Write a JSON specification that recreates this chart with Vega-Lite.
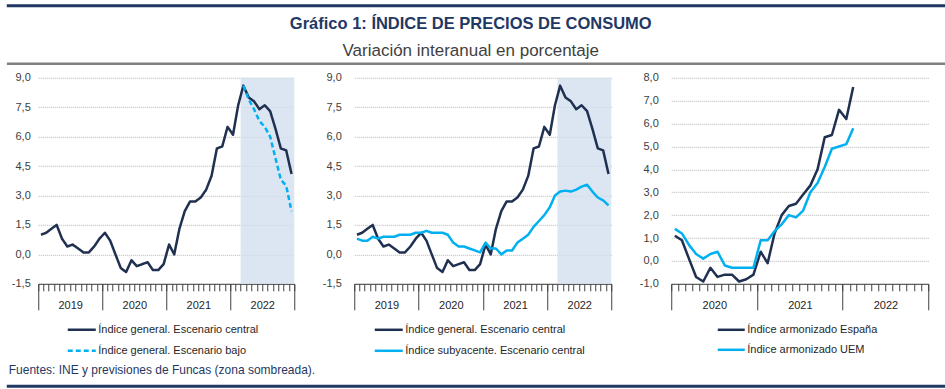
{
  "$schema": "https://vega.github.io/schema/vega-lite/v6.json",
  "background": "white",
  "padding": {"left": 4.5, "top": 3.8, "right": 2, "bottom": 2},
  "datasets": {
    "prevision": [{"inicio": "2022-03", "fin": "2023-01"}],
    "general": [
      {"mes": "2019-01", "valor": 1.0}, {"mes": "2019-02", "valor": 1.1}, {"mes": "2019-03", "valor": 1.3}, {"mes": "2019-04", "valor": 1.5},
      {"mes": "2019-05", "valor": 0.8}, {"mes": "2019-06", "valor": 0.4}, {"mes": "2019-07", "valor": 0.5}, {"mes": "2019-08", "valor": 0.3},
      {"mes": "2019-09", "valor": 0.1}, {"mes": "2019-10", "valor": 0.1}, {"mes": "2019-11", "valor": 0.4}, {"mes": "2019-12", "valor": 0.8},
      {"mes": "2020-01", "valor": 1.1}, {"mes": "2020-02", "valor": 0.7}, {"mes": "2020-03", "valor": 0.0}, {"mes": "2020-04", "valor": -0.7},
      {"mes": "2020-05", "valor": -0.9}, {"mes": "2020-06", "valor": -0.3}, {"mes": "2020-07", "valor": -0.6}, {"mes": "2020-08", "valor": -0.5},
      {"mes": "2020-09", "valor": -0.4}, {"mes": "2020-10", "valor": -0.8}, {"mes": "2020-11", "valor": -0.8}, {"mes": "2020-12", "valor": -0.5},
      {"mes": "2021-01", "valor": 0.5}, {"mes": "2021-02", "valor": 0.0}, {"mes": "2021-03", "valor": 1.3}, {"mes": "2021-04", "valor": 2.2},
      {"mes": "2021-05", "valor": 2.7}, {"mes": "2021-06", "valor": 2.7}, {"mes": "2021-07", "valor": 2.9}, {"mes": "2021-08", "valor": 3.3},
      {"mes": "2021-09", "valor": 4.0}, {"mes": "2021-10", "valor": 5.4}, {"mes": "2021-11", "valor": 5.5}, {"mes": "2021-12", "valor": 6.5},
      {"mes": "2022-01", "valor": 6.1}, {"mes": "2022-02", "valor": 7.6}, {"mes": "2022-03", "valor": 8.6}, {"mes": "2022-04", "valor": 8.0},
      {"mes": "2022-05", "valor": 7.8}, {"mes": "2022-06", "valor": 7.4}, {"mes": "2022-07", "valor": 7.6}, {"mes": "2022-08", "valor": 7.3},
      {"mes": "2022-09", "valor": 6.4}, {"mes": "2022-10", "valor": 5.4}, {"mes": "2022-11", "valor": 5.3}, {"mes": "2022-12", "valor": 4.1}
    ],
    "bajo": [
      {"mes": "2022-03", "valor": 8.6}, {"mes": "2022-04", "valor": 7.9}, {"mes": "2022-05", "valor": 7.4}, {"mes": "2022-06", "valor": 6.8},
      {"mes": "2022-07", "valor": 6.5}, {"mes": "2022-08", "valor": 6.0}, {"mes": "2022-09", "valor": 4.9}, {"mes": "2022-10", "valor": 3.8},
      {"mes": "2022-11", "valor": 3.5}, {"mes": "2022-12", "valor": 2.2}
    ],
    "subyacente": [
      {"mes": "2019-01", "valor": 0.8}, {"mes": "2019-02", "valor": 0.7}, {"mes": "2019-03", "valor": 0.7}, {"mes": "2019-04", "valor": 0.9},
      {"mes": "2019-05", "valor": 0.8}, {"mes": "2019-06", "valor": 0.9}, {"mes": "2019-07", "valor": 0.9}, {"mes": "2019-08", "valor": 0.9},
      {"mes": "2019-09", "valor": 1.0}, {"mes": "2019-10", "valor": 1.0}, {"mes": "2019-11", "valor": 1.0}, {"mes": "2019-12", "valor": 1.1},
      {"mes": "2020-01", "valor": 1.1}, {"mes": "2020-02", "valor": 1.2}, {"mes": "2020-03", "valor": 1.1}, {"mes": "2020-04", "valor": 1.1},
      {"mes": "2020-05", "valor": 1.1}, {"mes": "2020-06", "valor": 1.0}, {"mes": "2020-07", "valor": 0.6}, {"mes": "2020-08", "valor": 0.4},
      {"mes": "2020-09", "valor": 0.4}, {"mes": "2020-10", "valor": 0.3}, {"mes": "2020-11", "valor": 0.2}, {"mes": "2020-12", "valor": 0.1},
      {"mes": "2021-01", "valor": 0.6}, {"mes": "2021-02", "valor": 0.3}, {"mes": "2021-03", "valor": 0.3}, {"mes": "2021-04", "valor": 0.0},
      {"mes": "2021-05", "valor": 0.2}, {"mes": "2021-06", "valor": 0.2}, {"mes": "2021-07", "valor": 0.6}, {"mes": "2021-08", "valor": 0.8},
      {"mes": "2021-09", "valor": 1.0}, {"mes": "2021-10", "valor": 1.4}, {"mes": "2021-11", "valor": 1.7}, {"mes": "2021-12", "valor": 2.0},
      {"mes": "2022-01", "valor": 2.4}, {"mes": "2022-02", "valor": 3.0}, {"mes": "2022-03", "valor": 3.2}, {"mes": "2022-04", "valor": 3.25},
      {"mes": "2022-05", "valor": 3.2}, {"mes": "2022-06", "valor": 3.3}, {"mes": "2022-07", "valor": 3.45}, {"mes": "2022-08", "valor": 3.55},
      {"mes": "2022-09", "valor": 3.2}, {"mes": "2022-10", "valor": 2.9}, {"mes": "2022-11", "valor": 2.75}, {"mes": "2022-12", "valor": 2.5}
    ],
    "ipca_es": [
      {"mes": "2020-01", "valor": 1.1}, {"mes": "2020-02", "valor": 0.9}, {"mes": "2020-03", "valor": 0.1}, {"mes": "2020-04", "valor": -0.7},
      {"mes": "2020-05", "valor": -0.9}, {"mes": "2020-06", "valor": -0.3}, {"mes": "2020-07", "valor": -0.7}, {"mes": "2020-08", "valor": -0.6},
      {"mes": "2020-09", "valor": -0.6}, {"mes": "2020-10", "valor": -0.9}, {"mes": "2020-11", "valor": -0.8}, {"mes": "2020-12", "valor": -0.6},
      {"mes": "2021-01", "valor": 0.4}, {"mes": "2021-02", "valor": -0.1}, {"mes": "2021-03", "valor": 1.2}, {"mes": "2021-04", "valor": 2.0},
      {"mes": "2021-05", "valor": 2.4}, {"mes": "2021-06", "valor": 2.5}, {"mes": "2021-07", "valor": 2.9}, {"mes": "2021-08", "valor": 3.3},
      {"mes": "2021-09", "valor": 4.0}, {"mes": "2021-10", "valor": 5.4}, {"mes": "2021-11", "valor": 5.5}, {"mes": "2021-12", "valor": 6.6},
      {"mes": "2022-01", "valor": 6.2}, {"mes": "2022-02", "valor": 7.6}
    ],
    "ipca_uem": [
      {"mes": "2020-01", "valor": 1.4}, {"mes": "2020-02", "valor": 1.2}, {"mes": "2020-03", "valor": 0.7}, {"mes": "2020-04", "valor": 0.3},
      {"mes": "2020-05", "valor": 0.1}, {"mes": "2020-06", "valor": 0.3}, {"mes": "2020-07", "valor": 0.4}, {"mes": "2020-08", "valor": -0.2},
      {"mes": "2020-09", "valor": -0.3}, {"mes": "2020-10", "valor": -0.3}, {"mes": "2020-11", "valor": -0.3}, {"mes": "2020-12", "valor": -0.3},
      {"mes": "2021-01", "valor": 0.9}, {"mes": "2021-02", "valor": 0.9}, {"mes": "2021-03", "valor": 1.3}, {"mes": "2021-04", "valor": 1.6},
      {"mes": "2021-05", "valor": 2.0}, {"mes": "2021-06", "valor": 1.9}, {"mes": "2021-07", "valor": 2.2}, {"mes": "2021-08", "valor": 3.0},
      {"mes": "2021-09", "valor": 3.4}, {"mes": "2021-10", "valor": 4.1}, {"mes": "2021-11", "valor": 4.9}, {"mes": "2021-12", "valor": 5.0},
      {"mes": "2022-01", "valor": 5.1}, {"mes": "2022-02", "valor": 5.8}
    ]
  },
  "concat": [
    {
      "width": 952, "height": 54,
      "data": {"values": []},
      "mark": "point",
      "view": {"stroke": "#1f3864", "strokeWidth": 3, "strokeDash": [952, 3000]},
      "title": {
        "text": "Gráfico 1: ÍNDICE DE PRECIOS DE CONSUMO",
        "subtitle": "Variación interanual en porcentaje",
        "orient": "bottom", "anchor": "middle", "frame": "group", "baseline": "top",
        "offset": -44, "dx": -12,
        "font": "Liberation Sans", "fontSize": 16.5, "fontWeight": "bold", "color": "#1f3864",
        "subtitleFont": "Liberation Sans", "subtitleFontSize": 17, "subtitleColor": "#3f3f3f", "subtitlePadding": 10.8
      }
    },
    {
      "width": 952, "height": 6.75,
      "data": {"values": []},
      "mark": "point",
      "view": {"stroke": "#808080", "strokeWidth": 2.5, "strokeDash": [952, 3000]}
    },
    {
      "hconcat": [
        {
          "width": 256, "height": 206,
          "layer": [
            {
              "data": {"name": "prevision"},
              "mark": {"type": "rect", "color": "#d3e0ef", "opacity": 0.8},
              "encoding": {
                "x": {"field": "inicio", "type": "temporal",
                  "scale": {"type": "utc", "domain": [{"year": 2019, "month": 1, "date": 1, "utc": true}, {"year": 2023, "month": 1, "date": 1, "utc": true}], "nice": false},
                  "axis": {"orient": "bottom", "tickCount": {"interval": "year", "step": 1}, "tickSize": 26, "tickColor": "#404040", "domain": false, "grid": false,
                    "labelExpr": "utcyear(datum.value) == 2019 ? '' : '' + (utcyear(datum.value) - 1)",
                    "labelOffset": -32, "labelPadding": -4, "labelBaseline": "middle", "labelAlign": "center", "labelFlush": false, "labelOverlap": false, "labelBound": false,
                    "labelColor": "#262626", "title": null}},
                "x2": {"field": "fin"}
              }
            },
            {
              "data": {"name": "general"},
              "mark": {"type": "line", "strokeWidth": 2.5, "strokeJoin": "round"},
              "encoding": {
                "x": {"field": "mes", "type": "temporal", "timeUnit": "utcyearmonth", "bandPosition": 0.5,
                  "axis": {"orient": "bottom", "tickCount": {"interval": "month", "step": 1}, "tickSize": 7, "tickColor": "#404040", "domain": true, "domainColor": "#404040", "labels": false, "grid": false, "title": null}},
                "y": {"field": "valor", "type": "quantitative",
                  "scale": {"domain": [-1.5, 9], "nice": false, "zero": false},
                  "axis": {"values": [-1.5, 0, 1.5, 3, 4.5, 6, 7.5, 9], "tickCount": 20, "labelExpr": "replace(replace(format(datum.value, '.1f'), '.', ','), '\u2212', '-')",
                    "labelOverlap": false, "grid": true, "gridDash": [1, 1], "gridColor": "#b3b3b3", "domain": false, "ticks": false, "labelPadding": 8, "title": null}},
                "color": {"datum": "Índice general. Escenario central", "type": "nominal",
                  "scale": {"domain": ["Índice general. Escenario central", "Índice general. Escenario bajo"], "range": ["#1f3050", "#00b0f0"]},
                  "legend": {"legendX": 28, "legendY": 236.5, "symbolSize": 784, "rowPadding": -12.5, "title": null}},
                "strokeDash": {"datum": "Índice general. Escenario central", "type": "nominal",
                  "scale": {"domain": ["Índice general. Escenario central", "Índice general. Escenario bajo"], "range": [[1, 0], [5, 3]]},
                  "legend": {"legendX": 28, "legendY": 236.5, "symbolSize": 784, "rowPadding": -12.5, "title": null}}
              }
            },
            {
              "data": {"name": "bajo"},
              "mark": {"type": "line", "strokeWidth": 2.5, "strokeJoin": "round"},
              "encoding": {
                "x": {"field": "mes", "type": "temporal", "timeUnit": "utcyearmonth", "bandPosition": 0.5, "axis": null},
                "y": {"field": "valor", "type": "quantitative"},
                "color": {"datum": "Índice general. Escenario bajo", "type": "nominal"},
                "strokeDash": {"datum": "Índice general. Escenario bajo", "type": "nominal"}
              }
            }
          ],
          "resolve": {"axis": {"x": "independent"}}
        },
        {
          "width": 257, "height": 206,
          "layer": [
            {
              "data": {"name": "prevision"},
              "mark": {"type": "rect", "color": "#d3e0ef", "opacity": 0.8},
              "encoding": {
                "x": {"field": "inicio", "type": "temporal",
                  "scale": {"type": "utc", "domain": [{"year": 2019, "month": 1, "date": 1, "utc": true}, {"year": 2023, "month": 1, "date": 1, "utc": true}], "nice": false},
                  "axis": {"orient": "bottom", "tickCount": {"interval": "year", "step": 1}, "tickSize": 26, "tickColor": "#404040", "domain": false, "grid": false,
                    "labelExpr": "utcyear(datum.value) == 2019 ? '' : '' + (utcyear(datum.value) - 1)",
                    "labelOffset": -32, "labelPadding": -4, "labelBaseline": "middle", "labelAlign": "center", "labelFlush": false, "labelOverlap": false, "labelBound": false,
                    "labelColor": "#262626", "title": null}},
                "x2": {"field": "fin"}
              }
            },
            {
              "data": {"name": "general"},
              "mark": {"type": "line", "strokeWidth": 2.5, "strokeJoin": "round"},
              "encoding": {
                "x": {"field": "mes", "type": "temporal", "timeUnit": "utcyearmonth", "bandPosition": 0.5,
                  "axis": {"orient": "bottom", "tickCount": {"interval": "month", "step": 1}, "tickSize": 7, "tickColor": "#404040", "domain": true, "domainColor": "#404040", "labels": false, "grid": false, "title": null}},
                "y": {"field": "valor", "type": "quantitative",
                  "scale": {"domain": [-1.5, 9], "nice": false, "zero": false},
                  "axis": {"values": [-1.5, 0, 1.5, 3, 4.5, 6, 7.5, 9], "tickCount": 20, "labelExpr": "replace(replace(format(datum.value, '.1f'), '.', ','), '\u2212', '-')",
                    "labelOverlap": false, "grid": true, "gridDash": [1, 1], "gridColor": "#b3b3b3", "domain": false, "ticks": false, "labelPadding": 13, "title": null}},
                "color": {"datum": "Índice general. Escenario central", "type": "nominal",
                  "scale": {"domain": ["Índice general. Escenario central", "Índice subyacente. Escenario central"], "range": ["#1f3050", "#00b0f0"]},
                  "legend": {"legendX": 19, "legendY": 236.5, "symbolSize": 784, "rowPadding": -12.5, "title": null}}
              }
            },
            {
              "data": {"name": "subyacente"},
              "mark": {"type": "line", "strokeWidth": 2.5, "strokeJoin": "round"},
              "encoding": {
                "x": {"field": "mes", "type": "temporal", "timeUnit": "utcyearmonth", "bandPosition": 0.5, "axis": null},
                "y": {"field": "valor", "type": "quantitative"},
                "color": {"datum": "Índice subyacente. Escenario central", "type": "nominal"}
              }
            }
          ],
          "resolve": {"axis": {"x": "independent"}}
        },
        {
          "width": 257, "height": 206,
          "layer": [
            {
              "data": {"name": "ipca_es"},
              "mark": {"type": "line", "strokeWidth": 2.5, "strokeJoin": "round"},
              "encoding": {
                "x": {"field": "mes", "type": "temporal", "timeUnit": "utcyearmonth", "bandPosition": 0.5,
                  "scale": {"type": "utc", "domain": [{"year": 2020, "month": 1, "date": 1, "utc": true}, {"year": 2023, "month": 1, "date": 1, "utc": true}], "nice": false},
                  "axis": {"orient": "bottom", "tickCount": {"interval": "month", "step": 1}, "tickSize": 7, "tickColor": "#404040", "domain": true, "domainColor": "#404040", "labels": false, "grid": false, "title": null}},
                "y": {"field": "valor", "type": "quantitative",
                  "scale": {"domain": [-1, 8], "nice": false, "zero": false},
                  "axis": {"values": [-1, 0, 1, 2, 3, 4, 5, 6, 7, 8], "tickCount": 20, "labelExpr": "replace(replace(format(datum.value, '.1f'), '.', ','), '\u2212', '-')",
                    "labelOverlap": false, "grid": true, "gridDash": [1, 1], "gridColor": "#b3b3b3", "domain": false, "ticks": false, "labelPadding": 13, "title": null}},
                "color": {"datum": "Índice armonizado España", "type": "nominal",
                  "scale": {"domain": ["Índice armonizado España", "Índice armonizado UEM"], "range": ["#1f3050", "#00b0f0"]},
                  "legend": {"legendX": 45, "legendY": 237, "symbolSize": 729, "rowPadding": -11.5, "title": null}}
              }
            },
            {
              "data": {"name": "ipca_uem"},
              "mark": {"type": "line", "strokeWidth": 2.5, "strokeJoin": "round"},
              "encoding": {
                "x": {"field": "mes", "type": "temporal", "timeUnit": "utcyearmonth", "bandPosition": 0.5,
                  "axis": {"orient": "bottom", "tickCount": {"interval": "year", "step": 1}, "tickSize": 26, "tickColor": "#404040", "domain": false, "grid": false,
                    "labelExpr": "utcyear(datum.value) == 2020 ? '' : '' + (utcyear(datum.value) - 1)",
                    "labelOffset": -42.8, "labelPadding": -4, "labelBaseline": "middle", "labelAlign": "center", "labelFlush": false, "labelOverlap": false, "labelBound": false,
                    "labelColor": "#262626", "title": null}},
                "y": {"field": "valor", "type": "quantitative"},
                "color": {"datum": "Índice armonizado UEM", "type": "nominal"}
              }
            }
          ],
          "resolve": {"axis": {"x": "independent"}}
        }
      ],
      "spacing": 60,
      "bounds": "flush",
      "resolve": {"scale": {"color": "independent", "strokeDash": "independent"}, "legend": {"color": "independent", "strokeDash": "independent"}}
    },
    {
      "width": 952, "height": 27.5,
      "data": {"values": []},
      "mark": "point",
      "view": {"stroke": "#1f3864", "strokeWidth": 3, "strokeDash": [0, 979.5, 952, 3000]},
      "title": {
        "text": "Fuentes: INE y previsiones de Funcas (zona sombreada).",
        "orient": "bottom", "anchor": "start", "frame": "group", "baseline": "top",
        "offset": -21.5, "dx": 2,
        "font": "Liberation Sans", "fontSize": 12, "fontWeight": "normal", "color": "#1f3864"
      }
    }
  ],
  "columns": 1,
  "spacing": 0,
  "center": true,
  "bounds": "full",
  "config": {
    "view": {"stroke": null},
    "font": "Liberation Sans",
    "axis": {"labelFont": "Liberation Sans", "labelFontSize": 11, "labelColor": "#404040"},
    "legend": {"orient": "none", "direction": "vertical", "symbolType": "stroke", "symbolStrokeWidth": 2.5, "padding": 0, "labelOffset": 1,
      "labelFont": "Liberation Sans", "labelFontSize": 11, "labelColor": "#262626", "labelLimit": 0}
  }
}
